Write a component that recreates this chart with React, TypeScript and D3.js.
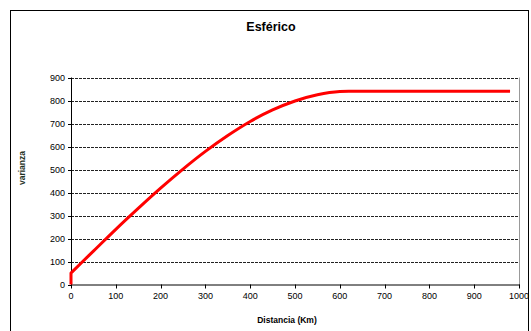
import React from "react";
import * as d3 from "d3";

// Spherical variogram model: distance (km) vs. semivariance
const distancia = [0, 0, 25, 50, 100, 150, 200, 250, 300, 350, 400, 450, 500, 550, 600, 620, 980];
const varianza = [0, 50, 98, 145, 240, 331, 419, 502, 579, 648, 709, 759, 798, 825, 839, 840, 840];
const xTicks = [0, 100, 200, 300, 400, 500, 600, 700, 800, 900, 1000];
const yTicks = [0, 100, 200, 300, 400, 500, 600, 700, 800, 900];

const W = 531;
const H = 331;
const plot = { left: 71, right: 519, top: 77.5, bottom: 284.5 };
const font = "'Liberation Sans', Arial, sans-serif";

export default function App() {
  const x = d3.scaleLinear().domain([0, 1000]).range([plot.left, plot.right]);
  const y = d3.scaleLinear().domain([0, 900]).range([plot.bottom, plot.top]);
  const points = distancia.map((d, i) => [d, varianza[i]] as [number, number]);
  // vertical jump at the origin (nugget), then smooth model curve
  const smooth = d3
    .line<[number, number]>()
    .x((d) => x(d[0]))
    .y((d) => y(d[1]))
    .curve(d3.curveMonotoneX);
  const curvePath = `M${x(points[0][0])},${y(points[0][1])}L` + (smooth(points.slice(1)) ?? "").slice(1);

  return (
    <svg
      width={W}
      height={H}
      style={{ position: "absolute", left: 0, top: 0, background: "#fff" }}
      fontFamily={font}
    >
      {/* outer chart frame */}
      <rect x={10.5} y={10.5} width={518} height={340} fill="none" stroke="#000" strokeWidth={1} />

      <text x={271} y={31} textAnchor="middle" fontSize={12.5} fontWeight="bold">
        Esférico
      </text>

      {/* plot area right border */}
      <line x1={plot.right + 0.5} x2={plot.right + 0.5} y1={plot.top} y2={plot.bottom} stroke="#999" />

      {/* horizontal dashed gridlines */}
      {yTicks
        .filter((t) => t > 0)
        .map((t) => (
          <line
            key={t}
            x1={plot.left}
            x2={plot.right}
            y1={Math.round(y(t)) + 0.5}
            y2={Math.round(y(t)) + 0.5}
            stroke="#222"
            strokeWidth={1}
            strokeDasharray="3,1"
          />
        ))}

      {/* y axis */}
      <line x1={plot.left + 0.5} x2={plot.left + 0.5} y1={plot.top} y2={plot.bottom + 1} stroke="#000" />
      {yTicks.map((t) => (
        <g key={t}>
          <line
            x1={plot.left - 3}
            x2={plot.left}
            y1={Math.round(y(t)) + 0.5}
            y2={Math.round(y(t)) + 0.5}
            stroke="#000"
          />
          <text x={plot.left - 6} y={y(t) + 3} textAnchor="end" fontSize={9}>
            {t}
          </text>
        </g>
      ))}

      {/* x axis */}
      <line x1={plot.left} x2={plot.right + 1} y1={plot.bottom + 0.5} y2={plot.bottom + 0.5} stroke="#000" />
      {xTicks.map((t) => (
        <g key={t}>
          <line
            x1={Math.round(x(t)) + 0.5}
            x2={Math.round(x(t)) + 0.5}
            y1={plot.bottom}
            y2={plot.bottom + 4}
            stroke="#000"
          />
          <text x={x(t)} y={plot.bottom + 14} textAnchor="middle" fontSize={9}>
            {t}
          </text>
        </g>
      ))}

      <text x={287} y={323} textAnchor="middle" fontSize={8.5} fontWeight="bold">
        Distancia (Km)
      </text>
      <text
        transform={`translate(25,168) rotate(-90)`}
        textAnchor="middle"
        fontSize={8.5}
        fontWeight="bold"
        fill="#1f3326"
      >
        varianza
      </text>

      <path d={curvePath} fill="none" stroke="#ff0000" strokeWidth={3} strokeLinejoin="round" />
    </svg>
  );
}
